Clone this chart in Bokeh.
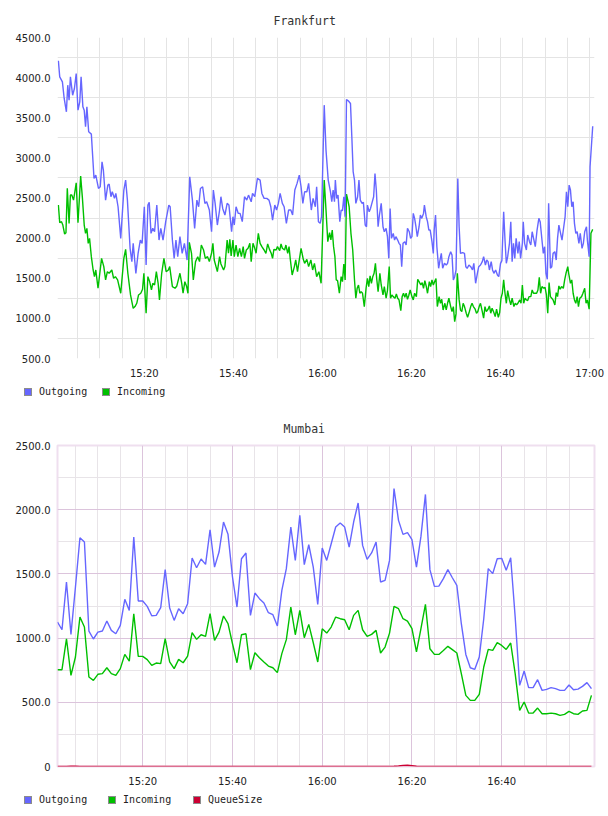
from datetime import datetime, timedelta
from bokeh.plotting import figure
from bokeh.layouts import column
from bokeh.models import (Range1d, FixedTicker, DatetimeTickFormatter,
                          NumeralTickFormatter, Div)
from bokeh.embed import file_html
from bokeh.resources import INLINE

# ---------------- data (minutes after 15:00, values) ----------------
FRA_OUT_T = [0.7,1.0,1.6,2.0,2.5,2.8,3.1,3.4,3.9,4.3, 4.7,5.1,5.5,5.8,6.2,6.5,6.8,7.1,7.5,8.1,
    8.7,9.1,9.7,10.1,10.5,10.8,11.3,11.8,12.1,12.5, 12.8,13.3,13.6,14.1,14.7,15.4,15.8,16.2,16.8,17.2,
    17.5,18.1,18.6,19.1,19.5,20.0,20.4,20.8,21.1,21.5, 21.9,22.3,22.8,23.3,23.7,24.2,24.8,25.5,25.8,26.3,
    26.7,27.1,27.5,28.0,28.5,29.0,29.6,30.2,30.8,31.3, 31.8,32.2,32.6,33.1,33.6,34.0,34.6,35.1,35.5,35.9,
    36.4,36.9,37.2,37.6,38.1,38.6,39.0,39.6,39.9,40.2, 40.6,41.1,41.5,42.0,42.5,43.0,43.4,44.0,44.3,44.8,
    45.4,46.0,46.4,46.9,47.5,48.0,48.4,48.8,49.3,49.7, 50.1,50.5,51.0,51.4,51.9,52.4,52.9,53.3,53.8,54.3,
    54.8,55.2,55.6,56.0,56.5,56.9,57.5,57.9,58.4,58.7, 59.1,59.5,59.8,60.4,
    60.8,61.3,61.8,62.1,62.4,62.7,62.9,63.2,63.5,63.9, 64.2,64.5,64.8,65.1,65.4,65.8,66.3,66.6,66.9,67.2,
    67.5,67.9,68.2,68.5,68.9,69.2,69.6,69.9,70.1,70.5, 70.8,71.1,71.5,71.8,72.1,72.5,72.8,73.2,73.6,73.9,
    74.3,74.6,74.9,75.2,75.5,75.9,76.2,76.5,76.9,77.2, 77.5,77.8,78.1,78.5,78.8,79.1,79.5,79.8,80.1,80.4,
    80.7,81.0,81.3,81.7,82.0,82.3,82.7,82.9,83.3,83.6, 83.9,84.2,84.6,84.9,85.1,85.4,85.7,86.1,86.4,86.7,
    87.0,87.4,87.8,88.1,88.4,88.8,89.1,89.4,89.7,90.0, 90.4,90.7,91.0,91.5,91.9,92.2,92.5,92.9,93.3,93.7,
    94.0,94.4,94.8,95.1,95.5,95.9,96.2,96.6,96.9,97.2, 97.5,97.9,98.2,98.5,98.9,99.3,99.6,100.0,100.3,100.7,
    101.0,101.3,101.6,102.0,102.3,102.6,102.9,103.2,103.5,103.9, 104.2,104.5,104.9,105.1,105.4,105.8,106.1,106.5,106.8,107.1,
    107.5,107.8,108.2,108.6,108.9,109.3,109.6,109.9,110.2,110.5, 110.8,111.2,111.5,111.8,112.2,112.5,112.8,113.1,113.4,113.8,
    114.1,114.5,114.8,115.1,115.4,115.7,116.0,116.3,116.6,116.9, 117.2,117.6,117.9,118.3,118.6,118.9,119.3,119.5,119.9,120.1,
    120.7]
FRA_OUT = [4210,4009,3947,3740,3574,3906,3719,4009,3781,3864, 4051,3594,3698,4009,3636,3594,3387,3636,3325,3296,
    2744,2785,2619,2640,2951,2848,2474,2661,2673,2516, 2578,2495,2557,2391,1997,2599,2723,2474,1873,1707,
    1935,1561,1810,1976,1935,2391,1665,2412,2445,2059, 2122,2080,2412,1976,2122,1976,2205,2412,2391,1976,
    1748,1976,1769,2018,1810,1935,1727,2765,2474,2122, 2474,2391,2619,2640,2433,2453,2350,2080,2599,2433,
    2163,2350,2516,2370,2288,2433,2412,2080,2267,2163, 2391,2308,2308,2205,2516,2474,2536,2453,2557,2516,
    2744,2723,2557,2495,2495,2474,2391,2225,2412,2350, 2433,2557,2433,2391,2184,2350,2350,2288,2599,2682,
    2785,2640,2433,2578,2578,2682,2350,2495,2391,2640, 2205,2184,2267,3657,
    3097,2723,2578,2453,2599,2453,2723,2495,2536,2205, 2350,2342,2516,2267,3727,3711,3677,3263,2827,2723,
    2433,2516,2723,2474,2433,2445,2163,2142,2412,2329, 2370,2433,2516,2806,2599,2142,2288,2433,2142,2080,
    2122,2018,1748,2370,1997,2059,1976,2018,1976,1935, 1914,1644,1935,1956,1914,2122,2080,1997,2018,2308,
    2246,2142,2018,2142,2288,2246,2308,2412,2267,2205, 2101,2101,1956,1810,2101,2288,1893,1624,1727,1810,
    1624,1686,1665,1686,1769,1831,1790,1478,1520,1603, 2744,2142,1810,1819,1810,1644,1624,1665,1644,1603,
    1686,1437,1561,1644,1665,1707,1769,1665,1727,1707, 1603,1707,1603,1561,1603,1541,1520,1686,1719,2329,
    1976,1686,1769,1935,2205,1707,1935,1748,1997,1810, 1956,1748,1935,2205,1935,1852,2039,1956,1914,2080,
    1976,1893,2101,2246,2205,1976,1810,1893,1561,1487, 2433,1624,1644,1810,1831,1727,1997,2163,2080,1976,
    2101,2267,2578,2391,2661,2599,2391,2453,2184,2059, 2080,1935,2059,1873,1935,2080,2142,1976,1769,2889,
    3395]
FRA_IN_T = [0.7,1.0,1.4,1.7,2.1,2.4,2.7,3.1,3.4,3.7, 4.1,4.4,4.7,5.1,5.7,6.1,6.5,6.8,7.1,7.4,
    7.7,8.1,8.5,8.8,9.1,9.6,10.0,10.4,10.9,11.3, 11.7,12.1,12.7,13.1,13.5,14.0,14.7,15.4,15.8,16.3,
    16.9,17.5,17.9,18.3,18.7,19.2,19.6,19.9,20.4,20.8, 21.2,21.6,21.9,22.3,22.7,23.1,23.4,23.9,24.4,24.9,
    25.4,25.7,26.3,26.9,27.3,28.0,28.4,28.7,29.1,29.5, 29.8,30.1,30.6,31.0,31.5,32.0,32.4,32.8,33.3,33.7,
    34.2,34.6,35.1,35.4,35.7,36.1,36.4,36.9,37.2,37.8, 38.1,38.6,38.9,39.2,39.5,39.9,40.2,40.6,41.0,41.4,
    41.8,42.2,42.5,42.9,43.3,43.7,44.0,44.4,44.8,45.1, 45.6,46.0,46.4,46.9,47.3,47.7,48.1,48.5,48.8,49.1,
    49.6,49.9,50.4,50.7,51.0,51.5,51.8,52.2,52.5,52.8, 53.2,53.7,54.0,54.4,54.8,55.2,55.7,56.0,56.5,56.9,
    57.4,57.8,58.2,58.7,59.2,59.7,
    60.4,60.8,61.2,61.6,61.9,62.2,62.5,62.8,63.1,63.4, 63.8,64.2,64.5,64.8,65.1,65.4,65.7,66.0,66.4,66.8,
    67.2,67.5,67.8,68.1,68.4,68.7,69.0,69.4,69.8,70.1, 70.4,70.7,71.0,71.3,71.6,71.9,72.2,72.5,72.9,73.2,
    73.6,73.9,74.3,74.6,75.0,75.3,75.6,75.9,76.3,76.6, 76.9,77.2,77.6,77.9,78.2,78.5,78.8,79.1,79.4,79.7,
    80.1,80.4,80.7,81.1,81.4,81.7,82.1,82.4,82.7,83.0, 83.3,83.6,84.0,84.3,84.6,84.9,85.2,85.5,85.8,86.2,
    86.5,86.8,87.1,87.5,87.8,88.1,88.4,88.8,89.1,89.4, 89.7,90.0,90.3,90.7,91.0,91.3,91.6,91.9,92.3,92.6,
    93.0,93.3,93.6,93.9,94.3,94.6,94.9,95.2,95.5,95.9, 96.2,96.5,96.8,97.2,97.5,97.8,98.1,98.5,98.8,99.1,
    99.5,99.8,100.1,100.4,100.7,101.0,101.3,101.6,102.0,102.3, 102.6,103.0,103.3,103.6,103.9,104.3,104.6,104.9,105.2,105.5,
    105.8,106.1,106.4,106.8,107.1,107.4,107.7,108.1,108.4,108.7, 109.0,109.3,109.7,110.0,110.3,110.6,110.9,111.2,111.5,111.8,
    112.2,112.5,112.8,113.1,113.4,113.7,114.1,114.4,114.7,115.1, 115.3,115.7,116.0,116.3,116.6,116.9,117.2,117.5,117.8,118.2,
    118.5,118.9,119.2,119.5,119.9,120.3,120.7]
FRA_IN = [2412,2192,2205,2163,2051,2068,2620,2184,2537,2537, 2474,2578,2690,2192,2773,2495,2163,2060,2122,1935,
    1997,1769,1603,1520,1603,1375,1562,1748,1645,1479, 1582,1562,1603,1499,1520,1479,1313,1748,1860,1562,
    1292,1126,1147,1188,1292,1313,1363,1562,1064,1520, 1458,1354,1437,1416,1582,1437,1230,1562,1748,1582,
    1603,1645,1396,1375,1404,1562,1437,1313,1458,1396, 1313,1948,1811,1479,1707,1769,1707,1914,1852,1748,
    1769,1707,1811,1935,1728,1645,1582,1769,1678,1603, 1645,1977,1811,1985,1777,1977,1769,1914,1769,1873,
    1769,1894,1748,1852,1873,1935,1707,1935,1873,1811, 2060,1935,1894,1852,1811,1927,1860,1811,1748,1860,
    1852,1894,1844,1927,1873,1852,1914,1811,1894,1728, 1541,1645,1728,1582,1728,1873,1736,1686,1736,1645,
    1728,1603,1686,1520,1582,1437,
    2723,2350,1956,2068,1977,2101,1894,1769,1479,1470, 1313,1520,1458,1678,1479,2549,2474,2391,2060,1852,
    1479,1251,1375,1416,1313,1334,1313,1147,1375,1499, 1396,1529,1437,1520,1562,1686,1487,1334,1562,1416,
    1292,1396,1251,1346,1645,1251,1292,1271,1251,1304, 1251,1230,1097,1271,1313,1263,1313,1238,1288,1354,
    1271,1230,1313,1271,1487,1458,1416,1446,1375,1470, 1404,1313,1458,1396,1479,1416,1458,1495,1147,1271,
    1188,1238,1105,1188,1105,1188,1251,1147,1085,1147, 960,1056,1562,1230,1105,1085,1188,1147,1064,1014,
    1085,1147,1188,1147,1114,1064,1085,1147,1188,1085, 1002,1147,1085,1114,1155,1064,1126,1072,1022,1114,
    1014,1072,1251,1313,1479,1313,1188,1346,1230,1168, 1251,1147,1188,1168,1188,1230,1188,1416,1188,1251,
    1230,1222,1271,1271,1354,1313,1313,1313,1354,1512, 1313,1396,1375,1387,1292,1064,1446,1271,1251,1230,
    1168,1321,1271,1404,1363,1396,1375,1479,1562,1645, 1562,1437,1479,1313,1230,1188,1271,1147,1251,1271,
    1313,1375,1188,1230,1114,2060,2109]

MUM_START_MIN = 1  # first sample 15:01, one sample per minute
MUM_OUT = [1125,1065,1437,1029,1398,1782,1748,1055,993,1047,
    1055,1133,1060,1034,1099,1302,1216,1787,1289,1289,
    1247,1174,1177,1237,1533,1234,1138,1229,1190,1268,
    1624,1548,1616,1574,1844,1553,1670,1904,1808,1476,
    1242,1618,1663,1177,1351,1307,1273,1198,1182,1094,
    1372,1541,1865,1605,1956,1572,1727,1553,1263,1701,
    1605,1735,1865,1896,1865,1709,1904,2052,1722,1613,
    1663,1748,1437,1450,1605,2164,1917,1808,1821,1766,
    1553,1792,2119,1533,1403,1405,1463,1533,1470,1411,
    1112,873,769,757,853,1151,1541,1502,1618,1621,
    1528,1626,1164,632,744,614,614,676,593,601,
    614,606,593,593,635,598,603,624,653,606]
MUM_IN = [754,754,995,710,853,1164,1086,697,671,718,
    723,769,723,710,762,873,821,1190,858,858,
    832,788,806,801,995,814,762,834,808,860,
    1042,990,1026,1014,1190,982,1047,1172,1112,956,
    808,1026,1034,754,886,847,814,782,769,731,
    879,988,1242,1026,1216,1003,1107,964,814,1073,
    1039,1086,1164,1151,1143,1065,1177,1216,1065,1014,
    1029,1060,884,930,1039,1247,1229,1151,1133,1073,
    892,1073,1263,917,873,873,904,936,910,884,
    723,554,515,515,562,775,912,904,964,943,
    912,962,723,437,502,416,416,455,411,411,
    416,411,398,406,429,411,406,432,437,554]
MUM_QUEUE = [0,0,0,2,2,0,0,0,0,0,
    0,0,0,0,0,0,0,0,0,0,
    0,0,0,0,0,0,0,0,0,0,
    0,0,0,0,0,0,0,0,0,0,
    0,0,0,0,0,0,0,0,0,0,
    0,0,0,0,0,0,0,0,0,0,
    0,0,0,0,0,0,0,0,0,0,
    0,0,0,0,0,1,4,8,9,6,
    2,0,0,0,0,0,0,0,0,0,
    0,0,0,0,0,0,0,0,0,0,
    0,0,0,0,0,0,0,0,0,0,
    0,0,0,0,0,0,0,0,0,0]

SERIES = ["Outgoing", "Incoming", "QueueSize"]
COLORS = ["#6666ff", "#00c000", "#cc0033"]

FRA_YTICKS = [500, 1000, 1500, 2000, 2500, 3000, 3500, 4000, 4500]
FRA_YGRID = [750, 1250, 1750, 2250, 2750, 3250, 3750, 4250]
FRA_XTICK_MIN = [20, 40, 60, 80, 100, 120]
FRA_XGRID_MIN = [5, 10, 15, 20, 25, 30, 35, 40, 45, 50, 55, 60, 65, 70, 75, 80,
                 85, 90, 95, 100, 105, 110, 115, 120]
MUM_YTICKS = [0, 500, 1000, 1500, 2000, 2500]
MUM_YMINOR = [250, 750, 1250, 1750, 2250]
MUM_XTICK_MIN = [20, 40, 60, 80, 100]
MUM_XMINOR_MIN = [5, 10, 15, 25, 30, 35, 45, 50, 55, 65, 70, 75, 85, 90, 95,
                  105, 110, 115]

# ---------------- helpers ----------------
DAY = datetime(2024, 5, 14, 15, 0, 0)
EPOCH = datetime(1970, 1, 1)


def at(m):
    return DAY + timedelta(minutes=m)


def ms(m):
    return (at(m) - EPOCH).total_seconds() * 1000.0


FMT = DatetimeTickFormatter(seconds="%H:%M", minsec="%H:%M", minutes="%H:%M",
                            hourmin="%H:%M", hours="%H:%M", days="%H:%M")


def make_fig(title, title_offset, xr, yr):
    p = figure(width=608, height=386, x_axis_type="datetime",
               x_range=xr, y_range=yr, output_backend="svg",
               toolbar_location=None, min_border_left=57, min_border_right=14,
               min_border_top=37, min_border_bottom=28)
    p.background_fill_color = "white"
    p.border_fill_color = "white"
    p.title.text = title
    p.title.align = "left"
    p.title.offset = title_offset
    p.title.standoff = 19
    p.title.text_font = "DejaVu Sans Mono"
    p.title.text_font_size = "11.5px"
    p.title.text_font_style = "normal"
    p.title.text_color = "#333333"
    for ax in (p.xaxis[0], p.yaxis[0]):
        ax.axis_line_color = None
        ax.major_tick_line_color = None
        ax.minor_tick_line_color = None
        ax.major_tick_out = 0
        ax.major_tick_in = 0
        ax.minor_tick_out = 0
        ax.minor_tick_in = 0
        ax.major_label_text_font = "DejaVu Sans"
        ax.major_label_text_font_size = "10px"
        ax.major_label_text_color = "#222222"
    p.xaxis.major_label_standoff = 9
    p.yaxis.major_label_standoff = 7
    p.xaxis.formatter = FMT
    p.yaxis.formatter = NumeralTickFormatter(format="0.0")
    return p


def legend_div(names, colors, swatch_x):
    parts = []
    for n, c, x in zip(names, colors, swatch_x):
        parts.append(
            f'<span style="position:absolute;left:{x}px;top:2px;width:8px;height:8px;'
            f'background:{c};border:1px solid #8c8c8c;"></span>'
            f'<span style="position:absolute;left:{x + 15}px;top:0px;line-height:12px;'
            f'white-space:nowrap;">{n}</span>')
    html = ('<div style="position:relative;width:608px;height:22px;'
            'font-family:\'DejaVu Sans Mono\',monospace;font-size:10px;color:#222222;">'
            + "".join(parts) + '</div>')
    return Div(text=html, width=608, height=22, margin=0)


# ---------------- Frankfurt ----------------
p1 = make_fig("Frankfurt", 216, Range1d(at(0.5), at(121.1)), Range1d(500, 4500))
p1.outline_line_color = None
p1.xaxis.ticker = FixedTicker(ticks=[ms(m) for m in FRA_XTICK_MIN])
p1.yaxis.ticker = FixedTicker(ticks=FRA_YTICKS)
p1.xgrid.ticker = FixedTicker(ticks=[ms(m) for m in FRA_XGRID_MIN])
p1.ygrid.ticker = FixedTicker(ticks=FRA_YGRID)
p1.xgrid.grid_line_color = "#e4e4e4"
p1.ygrid.grid_line_color = "#e4e4e4"
p1.line([at(m) for m in FRA_IN_T], FRA_IN, line_color=COLORS[1], line_width=1.4)
p1.line([at(m) for m in FRA_OUT_T], FRA_OUT, line_color=COLORS[0], line_width=1.4)
l1 = legend_div(SERIES[:2], COLORS[:2], [24, 102])

# ---------------- Mumbai ----------------
mum_t = [at(MUM_START_MIN + i) for i in range(len(MUM_OUT))]
p2 = make_fig("Mumbai", 226, Range1d(at(1.0), at(120.68)), Range1d(0, 2500))
p2.outline_line_color = "#efdfef"
p2.outline_line_width = 2
xt = FixedTicker(ticks=[ms(m) for m in MUM_XTICK_MIN],
                 minor_ticks=[ms(m) for m in MUM_XMINOR_MIN])
yt = FixedTicker(ticks=MUM_YTICKS, minor_ticks=MUM_YMINOR)
p2.xaxis.ticker = xt
p2.yaxis.ticker = yt
p2.xgrid.ticker = xt
p2.ygrid.ticker = yt
p2.xgrid.grid_line_color = "#dcc4dc"
p2.ygrid.grid_line_color = "#dcc4dc"
p2.xgrid.minor_grid_line_color = "#e8e4e8"
p2.ygrid.minor_grid_line_color = "#e8e4e8"
p2.yaxis.major_label_overrides = {0: "0"}
p2.line(mum_t, MUM_OUT, line_color=COLORS[0], line_width=1.4)
p2.line(mum_t, MUM_IN, line_color=COLORS[1], line_width=1.4)
p2.line(mum_t, MUM_QUEUE, line_color=COLORS[2], line_width=1.6)
l2 = legend_div(SERIES, COLORS, [24, 108, 193])

layout = column(p1, l1, p2, l2, spacing=0)
open("out.html", "w").write(file_html(layout, INLINE))
